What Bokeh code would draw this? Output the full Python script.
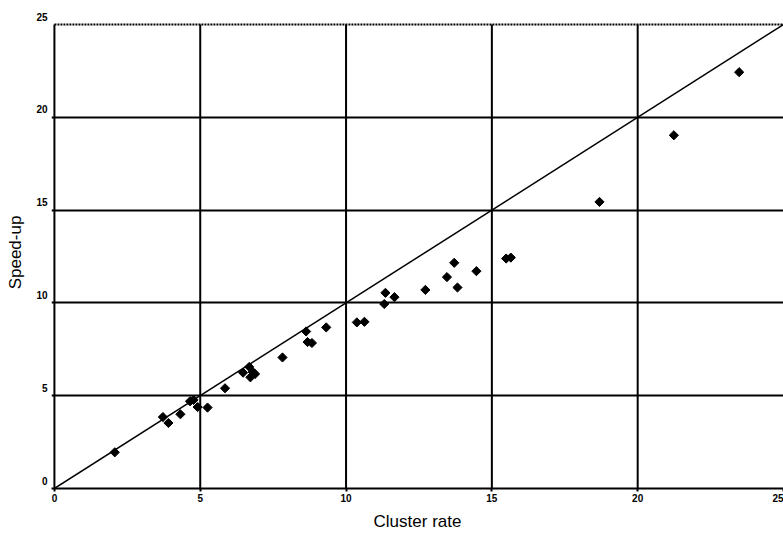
import math
from bokeh.plotting import figure
from bokeh.models import Range1d, FixedTicker, LinearAxis
from bokeh.embed import file_html
from bokeh.resources import INLINE

# Data
cluster_rate = [2.07, 3.72, 3.91, 4.32, 4.65, 4.77, 4.91, 5.25, 5.85,
                6.47, 6.68, 6.80, 6.72, 6.88, 7.82, 8.63, 8.68, 8.83, 9.32,
                10.37, 10.63, 11.31, 11.35, 11.66, 12.72, 13.46, 13.71, 13.82,
                14.47, 15.49, 15.65, 18.69, 21.24, 23.48]
speed_up = [1.95, 3.85, 3.53, 4.00, 4.70, 4.77, 4.39, 4.36, 5.40,
            6.24, 6.55, 6.28, 5.99, 6.17, 7.06, 8.46, 7.89, 7.84, 8.68,
            8.95, 8.98, 9.94, 10.54, 10.31, 10.70, 11.39, 12.16, 10.83,
            11.71, 12.39, 12.44, 15.44, 19.03, 22.43]
ticks = [0, 5, 10, 15, 20, 25]
grid_ticks = [5, 10, 15, 20]
axis_min = 0
axis_max = 25
ideal_x = [0, 25]
ideal_y = [0, 25]

# ranges padded slightly so the frame lines and raised tick labels fit
p = figure(width=783, height=533, output_backend="svg", toolbar_location=None,
           x_range=Range1d(-0.1, 25), y_range=Range1d(0, 25.43),
           y_axis_location=None,
           min_border_left=51, min_border_right=0, min_border_top=16,
           min_border_bottom=44)
p.outline_line_color = None
p.background_fill_color = "white"
p.extra_y_ranges = {"lab": Range1d(-0.43, 25.0)}

# horizontal grid lines (extend a little left of the axis like ticks)
p.ygrid.ticker = FixedTicker(ticks=grid_ticks)
p.ygrid.grid_line_color = "black"
p.ygrid.grid_line_width = 2
p.xgrid.grid_line_color = None

# vertical grid lines and the left axis line, bounded to 0..25
p.segment(x0=[axis_min] + grid_ticks, y0=axis_min,
          x1=[axis_min] + grid_ticks, y1=axis_max,
          line_color="black", line_width=2)
# top dotted border
p.segment(x0=axis_min, y0=axis_max, x1=axis_max, y1=axis_max,
          line_color="black", line_width=2, line_dash="2 1")

# x axis
ax = p.xaxis[0]
ax.ticker = FixedTicker(ticks=ticks)
ax.axis_line_width = 2
ax.axis_line_color = "black"
ax.major_tick_line_color = "black"
ax.major_tick_line_width = 2
ax.major_tick_in = 0
ax.major_tick_out = 3
ax.minor_tick_line_color = None
ax.major_label_text_font = "Liberation Sans"
ax.major_label_text_font_style = "bold"
ax.major_label_text_font_size = "10px"
ax.major_label_text_color = "black"
ax.major_label_standoff = 2
ax.axis_label = "Cluster rate"
ax.axis_label_text_font = "Liberation Sans"
ax.axis_label_text_font_style = "normal"
ax.axis_label_text_font_size = "17px"
ax.axis_label_text_color = "black"
ax.axis_label_standoff = 7

# y axis (labels only, on a range shifted so labels sit above the lines)
ya = LinearAxis(y_range_name="lab", ticker=FixedTicker(ticks=ticks))
ya.axis_line_color = None
ya.major_tick_line_color = None
ya.major_tick_in = 0
ya.major_tick_out = 0
ya.minor_tick_line_color = None
ya.major_label_text_font = "Liberation Sans"
ya.major_label_text_font_style = "bold"
ya.major_label_text_font_size = "10px"
ya.major_label_text_color = "black"
ya.major_label_standoff = 4
ya.axis_label = "Speed-up"
ya.axis_label_text_font = "Liberation Sans"
ya.axis_label_text_font_style = "normal"
ya.axis_label_text_font_size = "17px"
ya.axis_label_text_color = "black"
ya.axis_label_standoff = 8
p.add_layout(ya, "left")

# ideal line
p.line(ideal_x, ideal_y, line_color="black", line_width=1.5)

# points
p.scatter(cluster_rate, speed_up, marker="square", angle=math.pi / 4,
          size=6.5, fill_color="black", line_color="black")

open("out.html", "w").write(file_html(p, INLINE))
